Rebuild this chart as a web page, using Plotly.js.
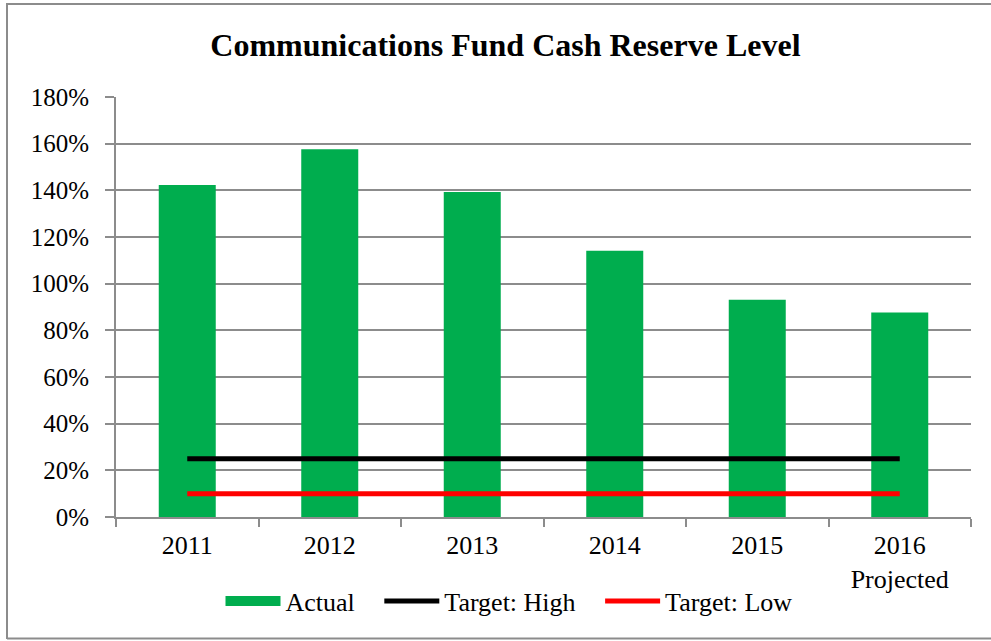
<!DOCTYPE html>
<html>
<head>
<meta charset="utf-8">
<script src="https://cdn.plot.ly/plotly-3.0.1.min.js"></script>
<style>
html,body{margin:0;padding:0;background:#fff;overflow:hidden;}
#chart{width:991px;height:641px;}
</style>
</head>
<body>
<div id="chart"></div>
<script>
const categories = ["2011", "2012", "2013", "2014", "2015", "2016<br>Projected"];
const actual = [142.3, 157.6, 139.3, 114.1, 93.1, 87.6];
const targetHigh = [25, 25, 25, 25, 25, 25];
const targetLow = [10, 10, 10, 10, 10, 10];
const yTicks = [0, 20, 40, 60, 80, 100, 120, 140, 160, 180];
const legendNames = ["Actual", "Target: High", "Target: Low"];

const font = "'Liberation Serif', 'Times New Roman', serif";
const pad = "&nbsp;&nbsp;&nbsp;";

const W = 991, H = 641, ML = 116, MR = 20, MT = 97, MB = 124;
const pw = W - ML - MR, ph = H - MT - MB;
const px = v => (v - ML) / pw;
const py = v => (H - MB - v) / ph;
const frameColor = "#8c8c8c";

const traces = [
  {type: "bar", x: categories, y: actual, name: legendNames[0], marker: {color: "#00ad4e"}, showlegend: false, hoverinfo: "skip"},
  {type: "scatter", mode: "lines", x: [null], y: [null], name: legendNames[0] + pad, line: {color: "#00ad4e", width: 15}},
  {type: "scatter", mode: "lines", x: categories, y: targetHigh, name: legendNames[1] + pad, line: {color: "#000000", width: 5}},
  {type: "scatter", mode: "lines", x: categories, y: targetLow, name: legendNames[2], line: {color: "#ff0000", width: 5}}
];

const layout = {
  width: W, height: H,
  margin: {l: ML, r: MR, t: MT, b: MB},
  paper_bgcolor: "#fff", plot_bgcolor: "#fff",
  font: {family: font, size: 26, color: "#000"},
  title: {text: "<b>Communications Fund Cash Reserve Level</b>", font: {family: font, size: 32, color: "#000"}, x: 0.51, xanchor: "center", y: 0.93, yanchor: "middle"},
  bargap: 0.6,
  xaxis: {type: "category", showline: true, linecolor: frameColor, linewidth: 2, ticks: "outside", tickson: "boundaries", ticklen: 8, tickcolor: frameColor, tickwidth: 2, showgrid: false, tickfont: {family: font, size: 26}, ticklabelstandoff: 4, fixedrange: true},
  yaxis: {range: [0, 180], tickvals: yTicks, ticktext: yTicks.map(v => v + "%"), showline: true, linecolor: frameColor, linewidth: 2, ticks: "outside", ticklen: 9, tickcolor: frameColor, tickwidth: 2, showgrid: true, gridcolor: frameColor, gridwidth: 2, zeroline: false, tickfont: {family: font, size: 25}, ticklabelstandoff: 11, fixedrange: true},
  legend: {orientation: "h", x: px(509), xanchor: "center", y: -0.2, yanchor: "middle", font: {family: font, size: 26}, itemwidth: 55, traceorder: "normal"},
  showlegend: true,
  shapes: [
    {type: "line", xref: "paper", yref: "paper", x0: px(7), x1: px(7), y0: py(3), y1: py(639), line: {color: frameColor, width: 2}},
    {type: "line", xref: "paper", yref: "paper", x0: px(7), x1: px(995), y0: py(4), y1: py(4), line: {color: frameColor, width: 2}},
    {type: "line", xref: "paper", yref: "paper", x0: px(7), x1: px(995), y0: py(638.5), y1: py(638.5), line: {color: frameColor, width: 2}}
  ]
};

Plotly.newPlot("chart", traces, layout, {displayModeBar: false, staticPlot: true});
</script>
</body>
</html>
